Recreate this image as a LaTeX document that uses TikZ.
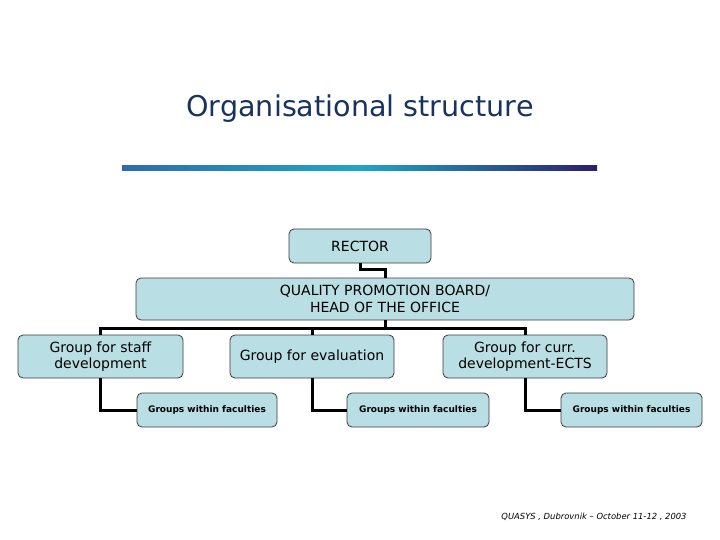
\documentclass[tikz,border=0pt]{standalone}
\usepackage{fontspec}
\setmainfont{DejaVu Sans}
\definecolor{boxfill}{HTML}{B9DEE3}
\definecolor{boxline}{HTML}{3A3A3A}
\definecolor{titleblue}{HTML}{17335E}
\definecolor{gradA}{HTML}{2E6CAE}
\definecolor{gradB}{HTML}{1FA6C6}
\definecolor{gradC}{HTML}{2C1F6E}
\tikzset{
  orgbox/.style={draw=boxline, fill=boxfill, rounded corners=5pt, line width=0.8pt,
    align=center, inner sep=1pt, font=\fontsize{14}{16.5}\selectfont},
  smallbox/.style={orgbox, font=\fontsize{9}{11}\selectfont\bfseries},
  link/.style={line width=3pt, black}
}
\begin{document}
\begin{tikzpicture}[x=1pt,y=-1pt]
\useasboundingbox (0,0) rectangle (720,540);
\node[font=\fontsize{28.6}{32}\selectfont, text=titleblue] (title) at (360,108.5) {Organisational structure};
\shade[left color=gradA, right color=gradC, middle color=gradB] (122,165.5) rectangle (597,170.5);
\node[orgbox, minimum width=142pt, minimum height=34pt] (rector) at (360,246) {RECTOR};
\node[orgbox, minimum width=498pt, minimum height=42pt] (qpb) at (385,299) {QUALITY PROMOTION BOARD/\\HEAD OF THE OFFICE};
\node[orgbox, minimum width=165pt, minimum height=43pt] (staff) at (100.5,356.5) {Group for staff\\development};
\node[orgbox, minimum width=164pt, minimum height=43pt] (eval) at (312,356.5) {Group for evaluation};
\node[orgbox, minimum width=164pt, minimum height=43pt] (curr) at (525,356.5) {Group for curr.\\development-ECTS};
\node[smallbox, minimum width=140pt, minimum height=34pt] (g1) at (207,410) {Groups within faculties};
\node[smallbox, minimum width=142pt, minimum height=34pt] (g2) at (418,410) {Groups within faculties};
\node[smallbox, minimum width=141pt, minimum height=34pt] (g3) at (631.5,410) {Groups within faculties};
\draw[link] (rector.south) -- ++(0,6) -| (qpb.north);
\draw[link] (qpb.south) -- ++(0,8) coordinate (bar);
\draw[link] (staff.north) |- (bar) -| (curr.north);
\draw[link] (eval.north) -- (eval.north |- bar);
\draw[link] (staff.south) |- (g1.west);
\draw[link] (eval.south) |- (g2.west);
\draw[link] (curr.south) |- (g3.west);
\node[font=\fontsize{8.4}{10}\selectfont\itshape] (foot) at (594,517) {QUASYS , Dubrovnik – October 11-12 , 2003};
\end{tikzpicture}
\end{document}
